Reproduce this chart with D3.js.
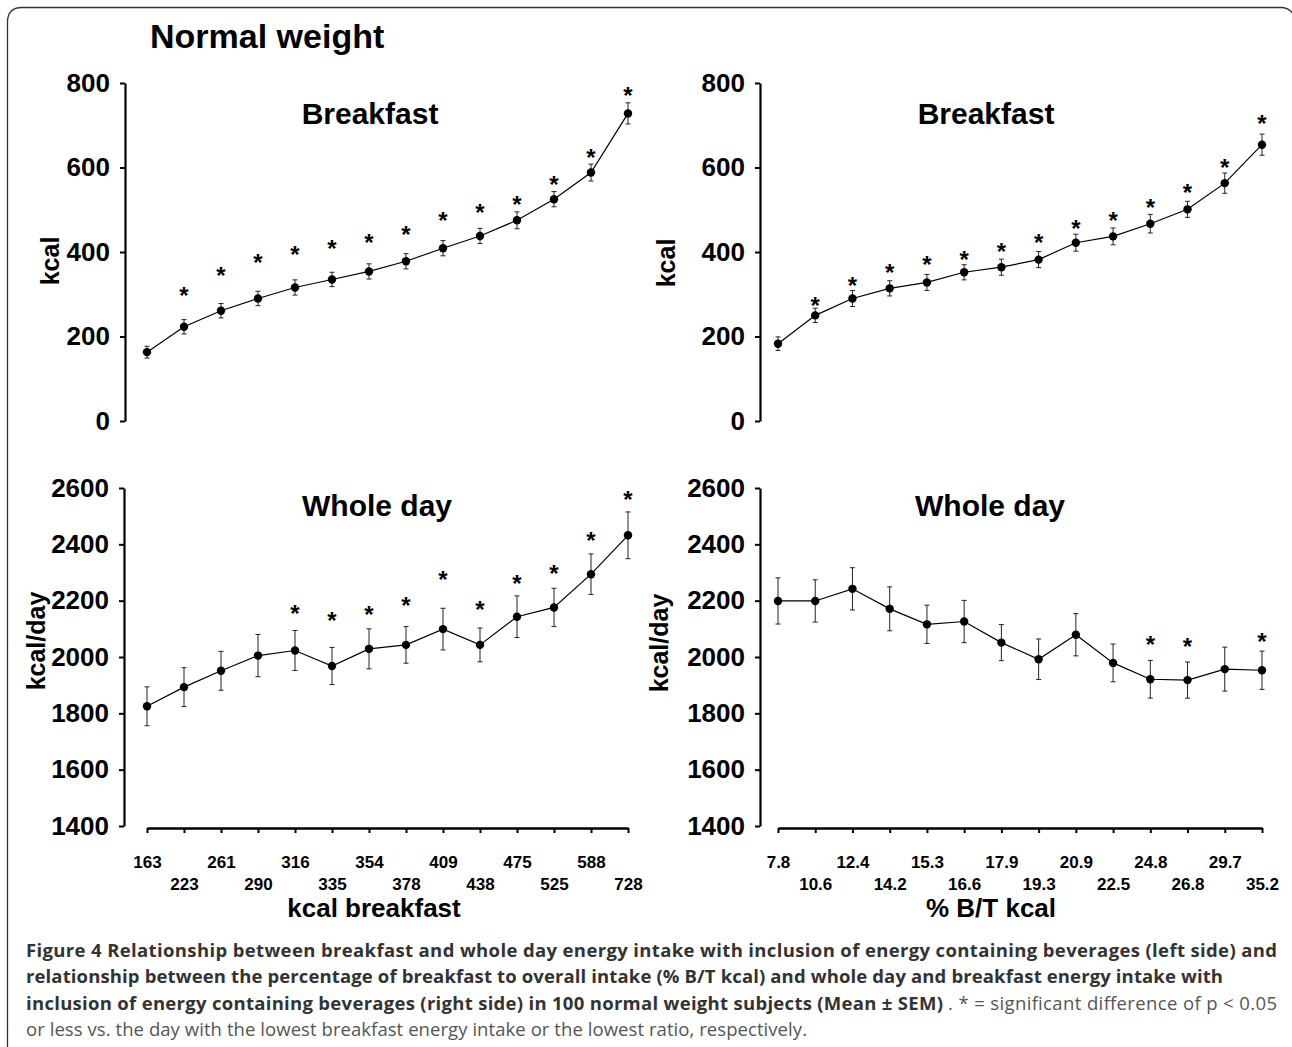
<!DOCTYPE html>
<html>
<head>
<meta charset="utf-8">
<script src="https://d3js.org/d3.v7.min.js"></script>
<style>
body { margin: 0; background: #fff; }
</style>
</head>
<body>
<script>
var width = 1292,
    height = 1047;

// categories (x tick labels)
var kcalLabels = ['163', '223', '261', '290', '316', '335', '354', '378', '409', '438', '475', '525', '588', '728'];
var pctLabels = ['7.8', '10.6', '12.4', '14.2', '15.3', '16.6', '17.9', '19.3', '20.9', '22.5', '24.8', '26.8', '29.7', '35.2'];

// breakfast kcal, left side (by kcal breakfast)
var bfLeft = [163, 223, 261, 290, 316, 335, 354, 378, 409, 438, 475, 525, 588, 728];
var bfLeftSem = [14, 17, 17, 17, 18, 17, 18, 18, 18, 18, 20, 18, 20, 25];
var bfLeftStar = [null, 308, 356, 385, 405, 418, 434, 452, 485, 503, 523, 570, 635, 782];

// breakfast kcal, right side (by % B/T kcal)
var bfRight = [183, 250, 290, 314, 328, 352, 364, 382, 422, 437, 467, 501, 563, 654];
var bfRightSem = [16, 17, 19, 18, 19, 18, 19, 19, 20, 20, 22, 19, 24, 25];
var bfRightStar = [null, 285, 332, 362, 380, 392, 412, 432, 467, 486, 517, 551, 610, 715];

// whole day kcal, left side
var dayLeft = [1825, 1893, 1951, 2005, 2023, 1968, 2029, 2043, 2099, 2043, 2143, 2176, 2294, 2432];
var dayLeftSem = [69, 69, 69, 75, 71, 66, 71, 65, 74, 60, 74, 68, 72, 83];
var dayLeftStar = [null, null, null, null, 2172, 2145, 2168, 2199, 2292, 2184, 2276, 2314, 2428, 2576];

// whole day kcal, right side
var dayRight = [2199, 2199, 2242, 2171, 2116, 2126, 2051, 1992, 2079, 1979, 1921, 1918, 1957, 1953];
var dayRightSem = [82, 75, 75, 78, 68, 75, 64, 72, 75, 67, 67, 64, 78, 68];
var dayRightStar = [null, null, null, null, null, null, null, null, null, null, 2060, 2052, null, 2070];

var bfTicks = [0, 200, 400, 600, 800];
var dayTicks = [1400, 1600, 1800, 2000, 2200, 2400, 2600];

var font = 'Liberation Sans, Arial, Helvetica, sans-serif';

var svg = d3.select('body')
  .append('svg')
  .attr('width', width)
  .attr('height', height)
  .style('display', 'block');

svg.append('rect').attr('width', width).attr('height', height).attr('fill', '#fff');

// frame of the figure box
svg.append('path')
  .attr('d', 'M7.5,1047 L7.5,22 Q7.5,7.5 22,7.5 L1282,7.5 Q1289,8 1292,13')
  .attr('fill', 'none')
  .attr('stroke', '#333')
  .attr('stroke-width', 1.3);

svg.append('text')
  .attr('x', 150)
  .attr('y', 48)
  .attr('font-family', font)
  .attr('font-weight', 'bold')
  .attr('font-size', 34)
  .text('Normal weight');

function drawPanel(o) {
  var g = svg.append('g');

  var x = d3.scalePoint()
    .domain(o.cats)
    .range(o.xRange);

  var y = d3.scaleLinear()
    .domain(o.yDomain)
    .range(o.yRange);

  var yAxis = g.append('g')
    .attr('transform', 'translate(' + o.axisX + ',0)')
    .call(d3.axisLeft(y)
      .tickValues(o.yTicks)
      .tickSize(5)
      .tickSizeOuter(0)
      .tickPadding(10)
      .tickFormat(d3.format('d')));
  yAxis.select('.domain').attr('stroke-width', 2.2).attr('stroke', '#000');
  yAxis.selectAll('.tick line').attr('stroke-width', 2).attr('stroke', '#000');
  yAxis.selectAll('.tick text')
    .attr('font-family', font)
    .attr('font-weight', 'bold')
    .attr('font-size', 26)
    .attr('fill', '#000');

  if (o.xAxis) {
    var xAxis = g.append('g')
      .attr('transform', 'translate(0,' + o.xAxisY + ')')
      .call(d3.axisBottom(x)
        .tickSize(5)
        .tickSizeOuter(0));
    xAxis.select('.domain').attr('stroke-width', 2.6).attr('stroke', '#000');
    xAxis.selectAll('.tick line').attr('stroke-width', 2).attr('stroke', '#000');
    xAxis.selectAll('.tick text')
      .attr('font-family', font)
      .attr('font-weight', 'bold')
      .attr('font-size', 17)
      .attr('fill', '#000')
      .attr('dy', 0)
      .attr('y', function(d, i) { return i % 2 === 0 ? 40 : 62; });

    g.append('text')
      .attr('x', o.xTitleX)
      .attr('y', 917)
      .attr('text-anchor', 'middle')
      .attr('font-family', font)
      .attr('font-weight', 'bold')
      .attr('font-size', 26)
      .text(o.xTitle);
  }

  g.append('text')
    .attr('transform', 'translate(' + o.yLabelX + ',' + o.yLabelY + ') rotate(-90)')
    .attr('text-anchor', 'middle')
    .attr('font-family', font)
    .attr('font-weight', 'bold')
    .attr('font-size', 25)
    .text(o.yLabel);

  g.append('text')
    .attr('x', o.titleX)
    .attr('y', o.titleY)
    .attr('text-anchor', 'middle')
    .attr('font-family', font)
    .attr('font-weight', 'bold')
    .attr('font-size', 30)
    .text(o.title);

  var pts = o.cats.map(function(c, i) {
    return { cat: c, v: o.vals[i], sem: o.sem[i], star: o.stars[i] };
  });

  var line = d3.line()
    .x(function(d) { return x(d.cat); })
    .y(function(d) { return y(d.v); });

  g.append('path')
    .datum(pts)
    .attr('d', line)
    .attr('fill', 'none')
    .attr('stroke', '#000')
    .attr('stroke-width', 1.2);

  var bars = g.selectAll('.err')
    .data(pts)
    .enter()
    .append('g')
    .attr('class', 'err')
    .attr('stroke', '#222')
    .attr('stroke-width', 1);

  bars.append('line')
    .attr('x1', function(d) { return x(d.cat); })
    .attr('x2', function(d) { return x(d.cat); })
    .attr('y1', function(d) { return y(d.v + d.sem); })
    .attr('y2', function(d) { return y(d.v - d.sem); });
  bars.append('line')
    .attr('x1', function(d) { return x(d.cat) - 2.5; })
    .attr('x2', function(d) { return x(d.cat) + 2.5; })
    .attr('y1', function(d) { return y(d.v + d.sem); })
    .attr('y2', function(d) { return y(d.v + d.sem); });
  bars.append('line')
    .attr('x1', function(d) { return x(d.cat) - 2.5; })
    .attr('x2', function(d) { return x(d.cat) + 2.5; })
    .attr('y1', function(d) { return y(d.v - d.sem); })
    .attr('y2', function(d) { return y(d.v - d.sem); });

  g.selectAll('.dot')
    .data(pts)
    .enter()
    .append('circle')
    .attr('class', 'dot')
    .attr('cx', function(d) { return x(d.cat); })
    .attr('cy', function(d) { return y(d.v); })
    .attr('r', 4.2)
    .attr('fill', '#000');

  g.selectAll('.star')
    .data(pts.filter(function(d) { return d.star != null; }))
    .enter()
    .append('text')
    .attr('class', 'star')
    .attr('x', function(d) { return x(d.cat); })
    .attr('y', function(d) { return y(d.star) + 13; })
    .attr('text-anchor', 'middle')
    .attr('font-family', font)
    .attr('font-weight', 'bold')
    .attr('font-size', 24)
    .text('*');
}

drawPanel({
  cats: kcalLabels, vals: bfLeft, sem: bfLeftSem, stars: bfLeftStar,
  xRange: [147, 628], axisX: 125,
  yDomain: [0, 800], yRange: [421, 83], yTicks: bfTicks,
  title: 'Breakfast', titleX: 370, titleY: 124,
  yLabel: 'kcal', yLabelX: 59, yLabelY: 261
});

drawPanel({
  cats: pctLabels, vals: bfRight, sem: bfRightSem, stars: bfRightStar,
  xRange: [778, 1262], axisX: 760,
  yDomain: [0, 800], yRange: [421, 83], yTicks: bfTicks,
  title: 'Breakfast', titleX: 986, titleY: 124,
  yLabel: 'kcal', yLabelX: 675, yLabelY: 263
});

drawPanel({
  cats: kcalLabels, vals: dayLeft, sem: dayLeftSem, stars: dayLeftStar,
  xRange: [147, 628], axisX: 124,
  yDomain: [1400, 2600], yRange: [826, 488], yTicks: dayTicks,
  title: 'Whole day', titleX: 377, titleY: 516,
  yLabel: 'kcal/day', yLabelX: 45, yLabelY: 641,
  xAxis: true, xAxisY: 828, xTitle: 'kcal breakfast', xTitleX: 374
});

drawPanel({
  cats: pctLabels, vals: dayRight, sem: dayRightSem, stars: dayRightStar,
  xRange: [778, 1262], axisX: 760,
  yDomain: [1400, 2600], yRange: [826, 488], yTicks: dayTicks,
  title: 'Whole day', titleX: 990, titleY: 516,
  yLabel: 'kcal/day', yLabelX: 668, yLabelY: 643,
  xAxis: true, xAxisY: 828, xTitle: '% B/T kcal', xTitleX: 991
});

// caption
var capFont = 'Open Sans, Noto Sans, sans-serif';

function capText(x, y, len, str, bold) {
  svg.append('text')
    .attr('x', x)
    .attr('y', y)
    .attr('font-family', capFont)
    .attr('font-size', 18.5)
    .attr('font-weight', bold ? 'bold' : 'normal')
    .attr('fill', bold ? '#333' : '#555')
    .attr('textLength', len)
    .attr('lengthAdjust', 'spacing')
    .text(str);
}

capText(26, 957, 1251, 'Figure 4 Relationship between breakfast and whole day energy intake with inclusion of energy containing beverages (left side) and', true);
capText(26, 983, 1197, 'relationship between the percentage of breakfast to overall intake (% B/T kcal) and whole day and breakfast energy intake with', true);
capText(26, 1010, 917, 'inclusion of energy containing beverages (right side) in 100 normal weight subjects (Mean \u00b1 SEM)', true);
capText(948, 1010, 329, '. * = significant difference of p < 0.05', false);
capText(26, 1036, 781, 'or less vs. the day with the lowest breakfast energy intake or the lowest ratio, respectively.', false);
</script>
</body>
</html>
